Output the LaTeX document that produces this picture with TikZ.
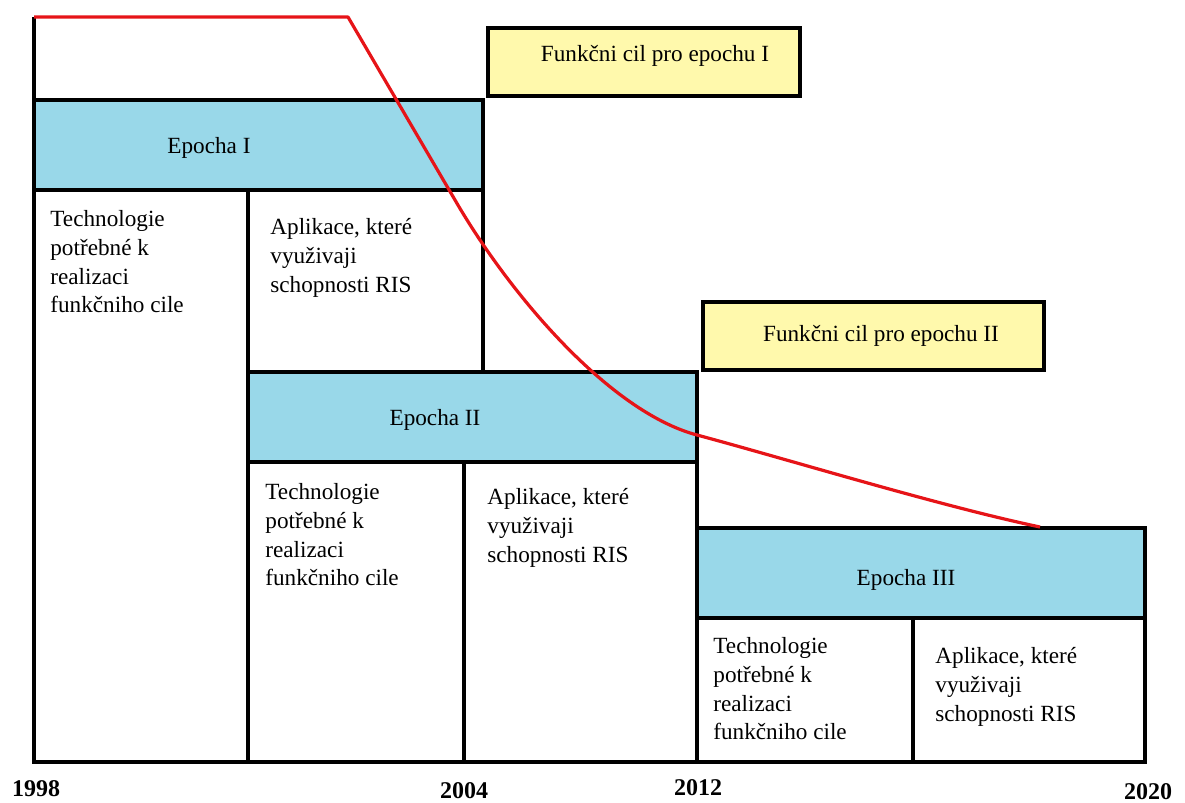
\documentclass[tikz,border=0pt]{standalone}
\usepackage{fontspec}
\setmainfont{Liberation Serif}
\definecolor{epochblue}{RGB}{153,216,233}
\definecolor{goalyellow}{RGB}{255,249,172}
\definecolor{curvered}{RGB}{230,20,24}
\begin{document}
\begin{tikzpicture}[x=0.5pt, y=-0.5pt,
		frame/.style={draw=black, line width=2pt},
		header/.style={frame, fill=epochblue},
		goal/.style={frame, fill=goalyellow},
		boxtext/.style={inner sep=0pt, font=\fontsize{11.6}{14}\selectfont},
		celltext/.style={boxtext, anchor=north west, align=left,
				font=\fontsize{11.6}{14.4}\selectfont},
		year/.style={inner sep=0pt, font=\fontsize{12}{14}\selectfont\bfseries}]
	\useasboundingbox (0,0) rectangle (1185,803);
	% epocha I
	\draw[frame] (34,17) -- (34,100);
	\draw[header] (34,100) rectangle (483,190);
	\draw[frame] (34,190) rectangle (248,762);
	\draw[frame] (248,190) rectangle (483,372);
	\node[boxtext] (ep1) at (209,148) {Epocha I};
	\node[celltext] (tech1) at (50,210) {Technologie\\potřebné k\\realizaci\\funkčniho cile};
	\node[celltext] (apl1) at (270,218) {Aplikace, které\\využivaji\\schopnosti RIS};
	% epocha II
	\draw[header] (248,372) rectangle (697,462);
	\draw[frame] (248,462) rectangle (464,762);
	\draw[frame] (464,462) rectangle (697,762);
	\node[boxtext] (ep2) at (435,420) {Epocha II};
	\node[celltext] (tech2) at (265,483) {Technologie\\potřebné k\\realizaci\\funkčniho cile};
	\node[celltext] (apl2) at (487,488) {Aplikace, které\\využivaji\\schopnosti RIS};
	% epocha III
	\draw[header] (697,528) rectangle (1145,618);
	\draw[frame] (697,618) rectangle (913,762);
	\draw[frame] (913,618) rectangle (1145,762);
	\node[boxtext] (ep3) at (906,580) {Epocha III};
	\node[celltext] (tech3) at (713,637) {Technologie\\potřebné k\\realizaci\\funkčniho cile};
	\node[celltext] (apl3) at (935,647) {Aplikace, které\\využivaji\\schopnosti RIS};
	% cile
	\draw[goal] (488,28) rectangle (800,96);
	\node[boxtext] (cil1) at (655,56) {Funkčni cil pro epochu I};
	\draw[goal] (703,302) rectangle (1044,370);
	\node[boxtext] (cil2) at (881,336) {Funkčni cil pro epochu II};
	% roky
	\node[year] (y1998) at (36,789) {1998};
	\node[year] (y2004) at (464,791) {2004};
	\node[year] (y2012) at (698,788) {2012};
	\node[year] (y2020) at (1148,792) {2020};
	% krivka
	\draw[curvered, line width=1.6pt, line join=round] (34,17) -- (348,17) -- (455,200)
	.. controls (510,295) and (610,412) .. (697,435)
	.. controls (790,460) and (940,506) .. (1040,527);
\end{tikzpicture}
\end{document}
